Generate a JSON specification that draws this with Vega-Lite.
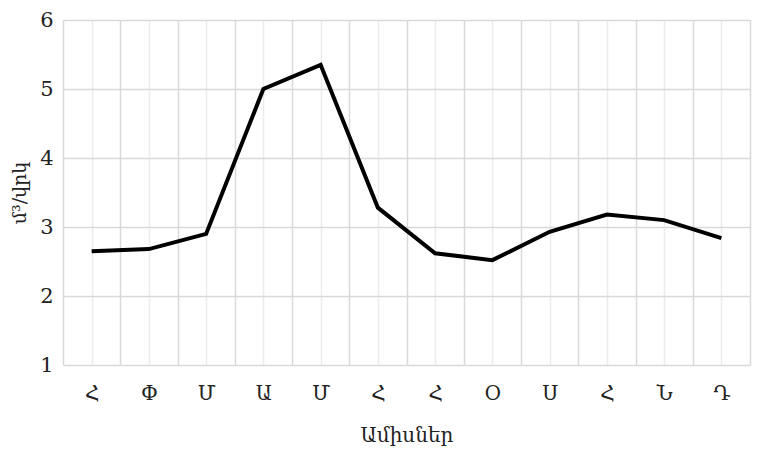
{
  "$schema": "https://vega.github.io/schema/vega-lite/v6.json",
  "width": 687,
  "height": 345,
  "autosize": {"type": "none"},
  "padding": {"left": 63, "top": 20, "right": 7, "bottom": 85},
  "background": "white",
  "config": {"view": {"stroke": null}},
  "data": {
    "values": [
      {"i": 1, "m": "Հ", "v": 2.65},
      {"i": 2, "m": "Փ", "v": 2.68},
      {"i": 3, "m": "Մ", "v": 2.9},
      {"i": 4, "m": "Ա", "v": 5.0},
      {"i": 5, "m": "Մ", "v": 5.35},
      {"i": 6, "m": "Հ", "v": 3.28},
      {"i": 7, "m": "Հ", "v": 2.62},
      {"i": 8, "m": "Օ", "v": 2.52},
      {"i": 9, "m": "Ս", "v": 2.93},
      {"i": 10, "m": "Հ", "v": 3.18},
      {"i": 11, "m": "Ն", "v": 3.1},
      {"i": 12, "m": "Դ", "v": 2.84}
    ]
  },
  "mark": {"type": "line", "color": "black", "strokeWidth": 4, "strokeJoin": "miter"},
  "encoding": {
    "x": {
      "field": "i",
      "type": "quantitative",
      "scale": {"domain": [0.5, 12.5], "nice": false, "zero": false},
      "axis": {
        "values": [0.5, 1, 1.5, 2, 2.5, 3, 3.5, 4, 4.5, 5, 5.5, 6, 6.5, 7, 7.5, 8, 8.5, 9, 9.5, 10, 10.5, 11, 11.5, 12, 12.5],
        "labelExpr": "datum.value % 1 == 0 ? ['Հ','Փ','Մ','Ա','Մ','Հ','Հ','Օ','Ս','Հ','Ն','Դ'][datum.value - 1] : ''",
        "title": "Ամիսներ",
        "titleFont": "DejaVu Serif",
        "titleFontSize": 20,
        "titleFontWeight": "normal",
        "titleColor": "#222",
        "titlePadding": 22,
        "labelFont": "DejaVu Serif",
        "labelFontSize": 20,
        "labelColor": "#222",
        "labelPadding": 18,
        "labelOverlap": false,
        "labelFlush": false,
        "ticks": false,
        "domain": false,
        "grid": true,
        "gridColor": {"condition": {"test": "datum.value % 1 == 0", "value": "#ececec"}, "value": "#d9d9d9"},
        "gridWidth": 1.5
      }
    },
    "y": {
      "field": "v",
      "type": "quantitative",
      "scale": {"domain": [1, 6], "nice": false, "zero": false},
      "axis": {
        "values": [1, 2, 3, 4, 5, 6],
        "title": "մ³/վրկ",
        "titleFont": "DejaVu Serif",
        "titleFontSize": 19,
        "titleFontWeight": "normal",
        "titleColor": "#222",
        "titlePadding": 10,
        "labelFont": "DejaVu Serif",
        "labelFontSize": 21,
        "labelColor": "#222",
        "labelPadding": 10,
        "ticks": false,
        "domain": false,
        "grid": true,
        "gridColor": "#d9d9d9",
        "gridWidth": 1.5
      }
    }
  }
}
